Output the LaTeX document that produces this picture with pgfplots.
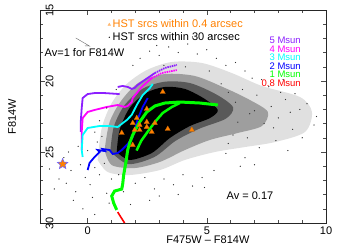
\documentclass[border=0pt]{standalone}
\usepackage{fontspec}
\setmainfont{Liberation Sans}
\usepackage{graphicx}
\usepackage{pgfplots}
\pgfplotsset{compat=1.18}
\definecolor{cfive}{RGB}{140,30,255}
\definecolor{cfour}{RGB}{255,0,255}
\definecolor{cthree}{RGB}{0,255,255}
\definecolor{ctwo}{RGB}{0,0,255}
\definecolor{cone}{RGB}{0,255,0}
\definecolor{cnull}{RGB}{255,0,0}
\definecolor{tri}{RGB}{255,128,0}
\definecolor{starblue}{RGB}{110,100,255}
\pgfdeclareplotmark{fstar}{%
  \pgfpathmoveto{\pgfpointpolar{90}{\pgfplotmarksize}}%
  \pgfpathlineto{\pgfpointpolar{126}{0.45\pgfplotmarksize}}%
  \pgfpathlineto{\pgfpointpolar{162}{\pgfplotmarksize}}%
  \pgfpathlineto{\pgfpointpolar{198}{0.45\pgfplotmarksize}}%
  \pgfpathlineto{\pgfpointpolar{234}{\pgfplotmarksize}}%
  \pgfpathlineto{\pgfpointpolar{270}{0.45\pgfplotmarksize}}%
  \pgfpathlineto{\pgfpointpolar{306}{\pgfplotmarksize}}%
  \pgfpathlineto{\pgfpointpolar{342}{0.45\pgfplotmarksize}}%
  \pgfpathlineto{\pgfpointpolar{18}{\pgfplotmarksize}}%
  \pgfpathlineto{\pgfpointpolar{54}{0.45\pgfplotmarksize}}%
  \pgfpathclose
  \pgfusepathqfillstroke}
\begin{document}
\begin{tikzpicture}
\useasboundingbox (0,0) rectangle (339pt,249pt);
\begin{axis}[
  at={(40pt,26pt)}, anchor=south west,
  scale only axis, width=286pt, height=213pt,
  xmin=-2, xmax=10, ymin=15, ymax=30, y dir=reverse,
  xtick={0,5,10}, ytick={15,20,25,30},
  yticklabels={\rotatebox{90}{15},\rotatebox{90}{20},\rotatebox{90}{25},\rotatebox{90}{30}},
  minor x tick num=4, minor y tick num=4,
  major tick length=5pt, minor tick length=3pt,
  tick style={black!70, thin},
  axis line style={black!85},
  /pgf/number format/assume math mode=true,
  tick label style={font=\fontsize{11}{11}\selectfont},
  yticklabel style={anchor=east, xshift=17pt},
  xlabel={F475W -- F814W}, ylabel={F814W},
  label style={font=\fontsize{11}{11}\selectfont},
  xlabel style={at={(axis description cs:0.587,0)}, anchor=center, yshift=-17pt},
  ylabel style={at={(axis description cs:-0.098,0.5)}, anchor=center},
  legend cell align=left,
  legend style={at={(axis cs:0.84,15.55)}, anchor=north west, draw=none, fill=none,
    inner sep=0pt, row sep=-1pt, font=\fontsize{11}{11}\selectfont},
]
\addlegendimage{only marks, mark=triangle*, mark size=1.6pt, color=tri!55}
\addlegendentry{\textcolor{tri}{HST srcs within 0.4 arcsec}}
\addlegendimage{only marks, mark=*, mark size=0.3pt, black}
\addlegendentry{HST srcs within 30 arcsec}

\addplot[fill=black!12, draw=none, smooth, tension=0.5, forget plot] coordinates {
(0.42,25.56)(0.59,23.31)(1.01,21.55)(1.64,20.21)(2.48,19.23)(3.53,18.66)(4.79,18.73)
(6.05,19.44)(7.31,20.35)(8.91,21.13)(9.41,22.18)(9.12,23.59)(7.86,24.30)(6.60,24.65)
(5.34,25.00)(4.08,25.56)(3.03,26.27)(1.76,26.62)(0.84,26.41)(0.42,25.56)};
\addplot[fill=black!38, draw=none, smooth, tension=0.5, forget plot] coordinates {
(0.71,24.86)(0.92,22.89)(1.43,21.34)(2.18,20.07)(3.24,19.51)(4.50,19.65)(5.76,20.49)
(6.81,21.34)(7.56,22.18)(7.31,23.17)(6.30,23.66)(5.13,24.15)(4.08,24.86)(3.03,25.70)
(1.97,26.13)(1.01,25.92)(0.71,24.86)};
\addplot[fill=black!65, draw=none, smooth, tension=0.5, forget plot] coordinates {
(0.95,24.95)(1.10,23.2)(1.55,21.7)(2.30,20.55)(3.24,20.05)(4.30,20.15)(5.40,20.95)
(6.10,21.85)(5.80,22.65)(4.70,23.35)(3.70,24.2)(2.80,25.35)(1.70,25.85)(0.95,24.95)};
\addplot[fill=black, draw=none, smooth, tension=0.5, forget plot] coordinates {
(1.22,25.00)(1.34,23.45)(1.76,21.90)(2.44,20.85)(3.24,20.42)(4.08,20.56)(4.92,21.27)
(5.46,22.04)(5.13,22.61)(4.29,23.17)(3.45,24.01)(2.69,25.07)(1.76,25.56)(1.22,25.00)};
\addplot[only marks, mark=*, mark size=0.35pt, black!80, forget plot] coordinates {
(-1.4,27.6)(-1.2,26.9)(-0.9,27.2)(-0.7,26.3)(-0.5,27.8)(-0.3,25.9)(-0.1,26.8)(0.1,27.3)
(0.3,26.1)(0.5,26.6)(0.7,25.8)(0.2,28.2)(-0.6,28.4)(-1.0,25.4)(-0.4,24.6)(0.4,24.3)
(0.6,23.9)(0.8,27.9)(1.0,26.9)(-0.2,29.0)(-1.6,26.2)(0.0,24.9)(0.9,28.6)(-0.8,25.0)(0.3,29.4)
(5.6,20.2)(5.9,20.8)(6.2,21.5)(6.5,20.6)(6.8,22.3)(7.1,21.0)(7.4,23.0)(7.7,21.8)
(8.0,22.6)(8.3,21.3)(8.6,23.4)(8.9,22.0)(9.2,21.6)(9.5,23.1)(7.9,24.2)(7.2,24.7)
(6.6,25.4)(8.4,24.9)(9.0,24.0)(6.1,23.8)(5.8,25.1)(6.9,19.8)(7.6,20.4)(8.7,20.9)
(9.6,22.5)(5.3,26.3)(6.4,26.0)(7.0,25.9)(4.8,26.8)(8.2,19.9)
(2.2,18.4)(2.6,17.9)(3.0,18.2)(3.4,17.6)(3.8,18.0)(4.2,17.4)(4.6,18.1)(5.0,17.8)
(5.4,18.4)(5.8,18.9)(6.2,18.7)(4.4,16.9)(3.6,17.1)(2.9,17.5)(1.9,18.9)(6.6,19.3)(5.2,16.8)
(2.0,27.2)(2.4,26.8)(2.8,27.6)(3.2,26.9)(3.6,27.3)(4.0,26.6)(4.4,27.4)(3.0,28.1)
(1.5,27.8)(2.6,28.4)(3.8,28.0)(4.9,27.5)(1.8,28.7)
(6.3,22.9)(7.0,22.1)(7.8,23.3)(8.5,22.2)(6.7,24.0)(5.9,24.4)(8.1,20.8)(7.3,19.9)
(4.1,19.0)(3.2,18.9)(5.1,19.3)(1.2,20.6)(0.8,21.9)(0.5,22.8)(0.3,23.6)(1.3,26.6)};

\addplot[cfive, line width=1.8pt, forget plot] coordinates {
(-0.29,23.59)(-0.29,22.89)(-0.25,21.90)(-0.21,21.20)(0.00,20.92)(0.29,20.85)(0.71,20.85)(1.34,20.92)};
\addplot[cfive, line width=1.8pt, forget plot] coordinates {
(1.26,20.42)(1.47,20.35)(1.68,20.42)(1.85,20.56)(1.97,20.49)(2.10,20.28)(2.39,19.93)(2.82,19.44)};
\addplot[cfive, line width=1.8pt, dash pattern=on 1.5pt off 0.8pt, forget plot] coordinates {
(2.82,19.44)(3.24,19.08)(3.74,18.87)};
\addplot[cfour, line width=1.8pt, forget plot] coordinates {
(-0.25,24.86)(-0.25,23.59)(-0.21,22.61)(0.00,22.18)(0.29,22.04)(0.80,21.83)(1.26,21.69)
(1.55,21.83)(1.68,21.76)(1.85,21.48)(1.89,21.20)(2.06,20.85)(2.27,20.42)(2.69,19.79)};
\addplot[cfour, line width=1.8pt, dash pattern=on 1.5pt off 0.8pt, forget plot] coordinates {
(2.69,19.79)(3.11,19.44)(3.74,19.23)};
\addplot[cthree, line width=1.8pt, forget plot] coordinates {
(-0.21,25.35)(-0.25,24.86)(-0.21,23.80)(0.00,23.31)(0.50,23.17)(0.92,23.17)(1.26,23.24)
(1.64,22.75)(1.85,22.39)(2.06,21.69)(2.31,20.99)(2.61,20.49)(2.73,20.21)};
\addplot[ctwo, line width=1.8pt, forget plot] coordinates {
(0.00,26.27)(0.08,25.77)(0.29,25.35)(0.50,25.00)(0.42,24.86)(0.71,24.93)(0.63,24.79)
(0.92,24.86)(1.05,25.14)(1.26,25.07)(1.43,24.86)(1.68,24.44)(1.89,23.94)(2.10,22.68)
(2.31,21.83)(2.52,21.20)};
\addplot[cone, line width=3pt, forget plot] coordinates {
(1.22,29.08)(1.09,28.59)(1.01,28.10)(1.13,27.75)(1.43,27.61)(1.47,27.25)(1.51,26.62)
(1.60,25.77)(1.68,24.86)(1.76,24.37)(1.89,23.80)(2.18,22.89)(2.48,22.18)(2.82,21.76)
(3.24,21.55)(3.87,21.48)(4.71,21.55)(5.46,21.69)};
\addplot[cone, line width=2.5pt, forget plot] coordinates {
(2.05,24.9)(2.25,24.2)(2.48,23.66)(2.82,22.89)(3.15,22.25)(3.53,21.83)(3.87,21.55)};
\addplot[cnull, line width=1.6pt, forget plot] coordinates {(1.26,29.23)(1.39,29.58)(1.55,30.0)};

\addplot[only marks, mark=triangle*, mark size=3pt, mark options={fill=tri, draw=tri!85!black, line width=0.3pt}, forget plot] coordinates {
(3.15,20.77)(2.48,21.97)(2.06,22.61)(1.89,22.96)(2.18,23.10)(2.82,22.96)(2.48,23.24)
(1.97,23.45)(2.18,23.45)(2.69,23.59)(1.43,23.66)(1.89,24.51)(3.36,23.38)(4.37,23.45)(2.48,22.89)};
\addplot[only marks, mark=fstar, mark size=5.5pt, mark options={fill=tri, draw=starblue, line width=0.6pt}, forget plot] coordinates {(-1.05,25.85)};

\draw[black!60, thin] (axis cs:-0.5,16.97) -- (axis cs:0.08,17.54) -- (axis cs:-0.12,17.52);
\node[anchor=west, font=\fontsize{11}{11}\selectfont, inner sep=0pt] at (axis cs:-1.81,18.03) {Av=1 for F814W};
\node[font=\fontsize{11}{11}\selectfont, inner sep=0pt] at (axis cs:6.81,28.1) {Av = 0.17};
\begin{scope}[every node/.style={anchor=east, inner sep=0pt, font=\fontsize{9.5}{9.5}\selectfont}]
\node[text=cfive] at (axis cs:8.95,17.15) {5 Msun};
\node[text=cfour] at (axis cs:8.95,17.75) {4 Msun};
\node[text=cthree] at (axis cs:8.95,18.35) {3 Msun};
\node[text=ctwo] at (axis cs:8.95,18.95) {2 Msun};
\node[text=cone] at (axis cs:8.95,19.55) {1 Msun};
\node[text=cnull] at (axis cs:8.95,20.15) {0.8 Msun};
\end{scope}
\end{axis}
\end{tikzpicture}
\end{document}
